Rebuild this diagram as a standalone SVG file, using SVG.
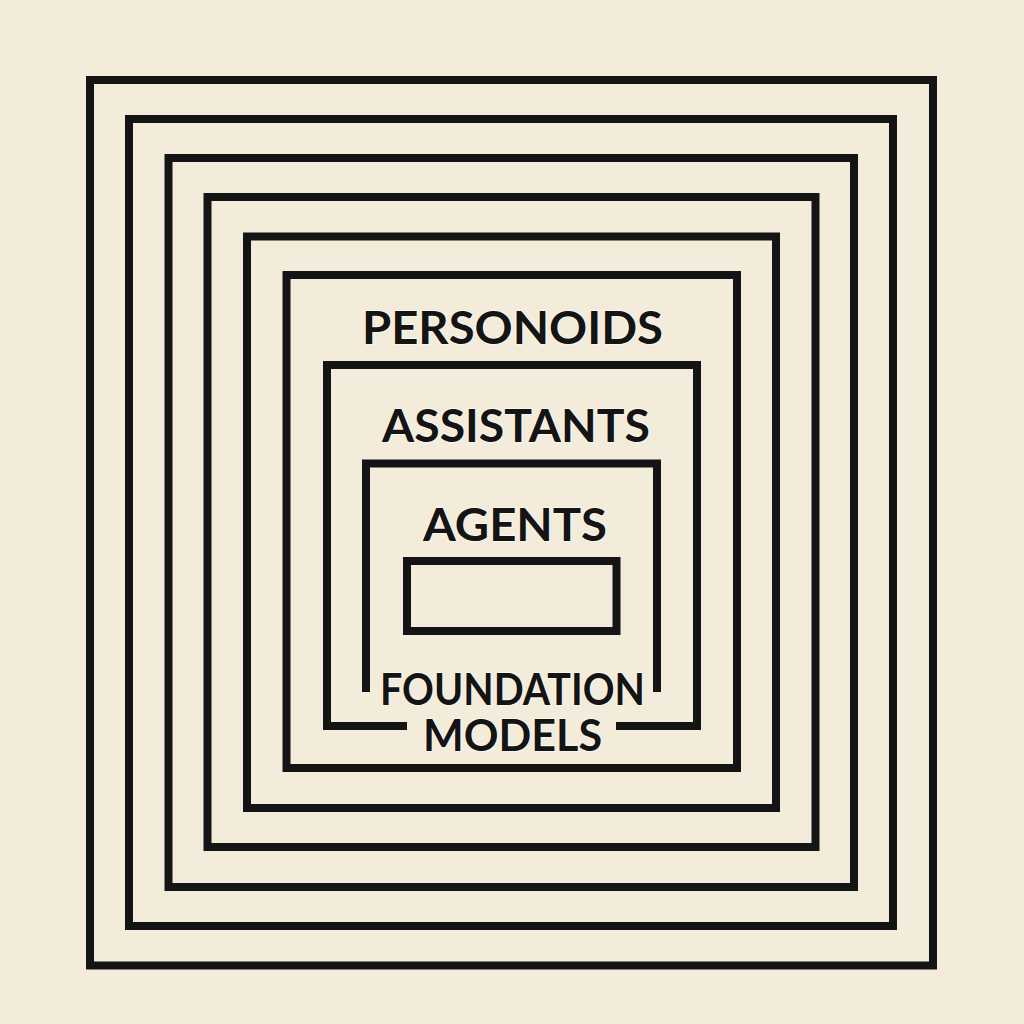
<svg xmlns="http://www.w3.org/2000/svg" width="1024" height="1024" viewBox="0 0 1024 1024">
<style>
.frame{fill:none;stroke:#141414;stroke-width:8;stroke-linejoin:miter;stroke-linecap:butt}
.lbl{font-family:"Lato","Liberation Sans",sans-serif;font-weight:700;fill:#141414;text-anchor:middle;stroke:#fbf6ea;stroke-width:2;paint-order:stroke}
</style>
<rect x="0" y="0" width="1024" height="1024" fill="#f4ecdb"/>
<g id="frames">
<g id="frame1"><rect class="frame" x="90" y="80" width="843" height="885.5"/></g>
<g id="frame2"><rect class="frame" x="129" y="119" width="764" height="807"/></g>
<g id="frame3"><rect class="frame" x="168.5" y="158" width="685.5" height="729"/></g>
<g id="frame4"><rect class="frame" x="207.5" y="197" width="608" height="650"/></g>
<g id="frame5"><rect class="frame" x="247" y="236.5" width="529" height="571.5"/></g>
</g>
<g id="personoids">
<rect class="frame" x="286.5" y="275" width="450.5" height="493"/>
<text class="lbl" x="512.5" y="344" font-size="46" textLength="301" lengthAdjust="spacingAndGlyphs">PERSONOIDS</text>
</g>
<g id="assistants">
<path class="frame" d="M407 726 H327 V365 H697 V726 H616"/>
<text class="lbl" x="516" y="442" font-size="46" textLength="268" lengthAdjust="spacingAndGlyphs">ASSISTANTS</text>
</g>
<g id="agents">
<path class="frame" d="M366 692 V463.5 H657 V692"/>
<text class="lbl" x="515" y="541" font-size="46" textLength="184" lengthAdjust="spacingAndGlyphs">AGENTS</text>
</g>
<g id="foundation-models">
<rect class="frame" x="407" y="561" width="209.5" height="70"/>
<text class="lbl" x="512.5" y="705" font-size="43" textLength="265" lengthAdjust="spacingAndGlyphs">FOUNDATION</text>
<text class="lbl" x="512.5" y="751" font-size="43" textLength="179" lengthAdjust="spacingAndGlyphs">MODELS</text>
</g>
<g id="connectors"/>
</svg>
